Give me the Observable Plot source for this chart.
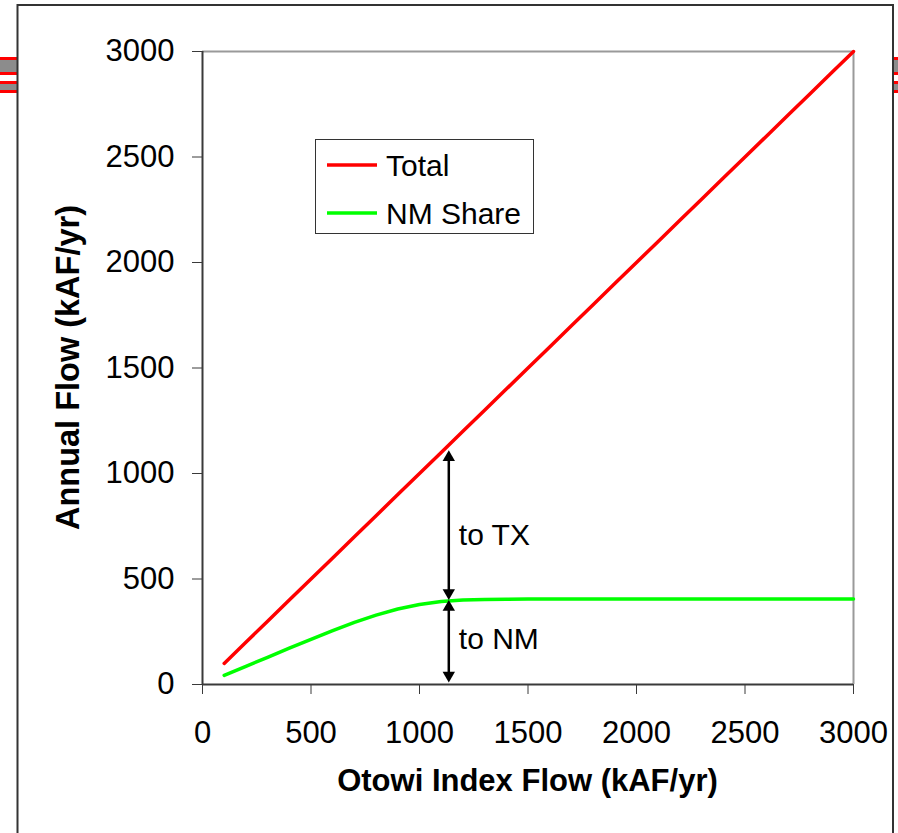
<!DOCTYPE html>
<html>
<head>
<meta charset="utf-8">
<script src="https://cdn.jsdelivr.net/npm/d3@7"></script>
<script src="https://cdn.jsdelivr.net/npm/@observablehq/plot@0.6"></script>
<style>
  html, body { margin: 0; padding: 0; background: #fff; }
  #chart { width: 898px; height: 833px; overflow: hidden; }
</style>
</head>
<body>
<div id="chart"></div>
<script>
// ---- data ----
const otowiFlow = [100,200,300,400,500,600,700,800,900,1000,1100,1200,1300,1400,1500,1600,1700,1800,1900,2000,2100,2200,2300,2400,2500,2600,2700,2800,2900,3000];
const totalFlow = [100,200,300,400,500,600,700,800,900,1000,1100,1200,1300,1400,1500,1600,1700,1800,1900,2000,2100,2200,2300,2400,2500,2600,2700,2800,2900,3000];
const nmShare   = [43,86,129,172,214,255,294,329,358,379,393,400,403,404,405,405,405,405,405,405,405,405,405,405,405,405,405,405,405,405];
const seriesNames = ["Total", "NM Share"];
const seriesColors = ["#ff0000", "#00ff00"];
const xTicks = [0,500,1000,1500,2000,2500,3000];
const yTicks = [0,500,1000,1500,2000,2500,3000];
const xTitle = "Otowi Index Flow (kAF/yr)";
const yTitle = "Annual Flow (kAF/yr)";
// annotation arrows (x position, from, to) and labels
const arrowX = 1135;
const arrowSegments = [ {y1: 1110, y2: 400}, {y1: 400, y2: 10} ];
const arrowLabels = [ {label: "to TX", y: 708}, {label: "to NM", y: 215} ];

const rows = otowiFlow.map((x, i) => ({x, total: totalFlow[i], nm: nmShare[i]}));
const arrows = arrowSegments.map(d => ({x: arrowX, ...d}));
const labels = arrowLabels.map(d => ({x: arrowX, ...d}));

const W = 898, H = 833;
const mL = 202, mR = 45, mT = 51, mB = 149;
const tipR = 4.6;
const tipOff = 2 * Math.sqrt((tipR * tipR * Math.PI) / (3 * Math.sqrt(3)));

const chart = Plot.plot({
  width: W, height: H,
  marginLeft: mL, marginRight: mR, marginTop: mT, marginBottom: mB,
  style: {fontFamily: "'Liberation Sans', Arial, sans-serif", fontSize: "31px", background: "#fff", color: "#000", overflow: "visible"},
  x: {domain: [0, 3000], ticks: xTicks, tickSize: 10, tickPadding: 26, tickFormat: d => String(d), label: null},
  y: {domain: [0, 3000], ticks: yTicks, tickSize: 10, tickPadding: 18, tickFormat: d => String(d), label: null},
  marks: [
    Plot.ruleY([3000], {stroke: "#9a9a9a", strokeWidth: 2}),
    Plot.ruleX([3000], {stroke: "#9a9a9a", strokeWidth: 2}),
    Plot.ruleY([0], {stroke: "#3a3a3a", strokeWidth: 2}),
    Plot.ruleX([0], {stroke: "#3a3a3a", strokeWidth: 2}),
    Plot.line(rows, {x: "x", y: "total", stroke: seriesColors[0], strokeWidth: 3.5}),
    Plot.line(rows, {x: "x", y: "nm", stroke: seriesColors[1], strokeWidth: 3.5}),
    Plot.ruleX(arrows, {x: "x", y1: "y1", y2: "y2", stroke: "#000", strokeWidth: 2.5, insetTop: 5, insetBottom: 5}),
    Plot.dot(arrows, {x: "x", y: "y1", symbol: "triangle", r: tipR, fill: "#000", stroke: "none", dy: tipOff}),
    Plot.dot(arrows, {x: "x", y: "y2", symbol: "triangle", r: tipR, fill: "#000", stroke: "none", rotate: 180, dy: -tipOff}),
    Plot.text(labels, {x: "x", y: "y", text: "label", textAnchor: "start", dx: 10, fontSize: 30, fill: "#000"})
  ]
});

const svg = d3.select(chart);
// axis tick colour
svg.selectAll("[aria-label='x-axis tick'], [aria-label='y-axis tick']").attr("stroke", "#3a3a3a");

// axis titles
svg.append("text").attr("x", (mL + (W - mR)) / 2).attr("y", 791)
  .attr("text-anchor", "middle").attr("font-weight", "bold").attr("font-size", 31).attr("fill", "#000")
  .text(xTitle);
svg.append("text").attr("transform", `translate(79, ${(mT + (H - mB)) / 2}) rotate(-90)`)
  .attr("text-anchor", "middle").attr("font-weight", "bold").attr("font-size", 32.5).attr("fill", "#000")
  .text(yTitle);

// legend
const lg = svg.append("g");
lg.append("rect").attr("x", 315.5).attr("y", 139.5).attr("width", 218).attr("height", 94)
  .attr("fill", "#fff").attr("stroke", "#333").attr("stroke-width", 1);
seriesNames.forEach((name, i) => {
  const yy = 165 + i * 48;
  lg.append("line").attr("x1", 327).attr("x2", 377).attr("y1", yy).attr("y2", yy)
    .attr("stroke", seriesColors[i]).attr("stroke-width", 3.5);
  lg.append("text").attr("x", 386).attr("y", yy + 11).attr("text-anchor", "start")
    .attr("font-size", 30).attr("fill", "#000").text(name);
});

// slide decorations: outer frame and side stripes
const deco = svg.append("g");
function stripes(x0, w) {
  [[57, 75], [81, 93]].forEach(([a, b]) => {
    deco.append("rect").attr("x", x0).attr("y", a).attr("width", w).attr("height", b - a).attr("fill", "#ff0000");
    deco.append("rect").attr("x", x0).attr("y", a + 3).attr("width", w).attr("height", b - a - 6).attr("fill", "#8c8c8c");
  });
}
stripes(0, 17);
stripes(894, 4);
deco.append("path").attr("d", "M17.5,833 V5 H893 V833").attr("fill", "none").attr("stroke", "#333").attr("stroke-width", 2);

document.getElementById("chart").appendChild(chart);
</script>
</body>
</html>
